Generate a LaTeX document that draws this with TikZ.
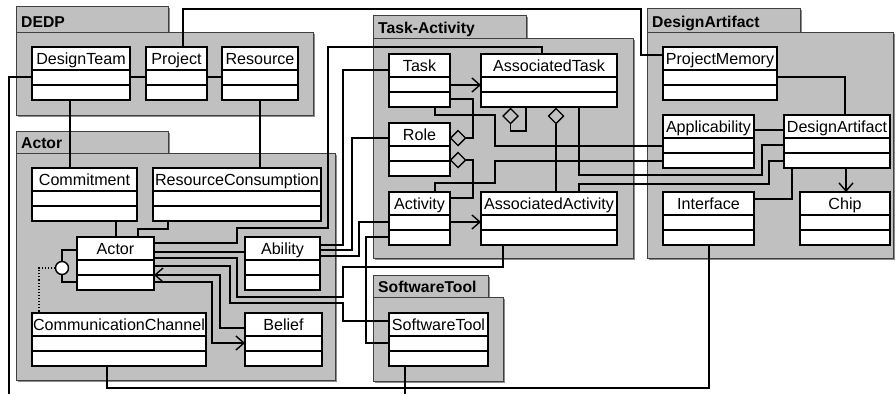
\documentclass[tikz,border=0pt]{standalone}
\usepackage{fontspec}
\setmainfont{Liberation Sans}
\usetikzlibrary{arrows.meta,shapes.geometric}

\definecolor{pkgfill}{RGB}{192,192,192}
\definecolor{pkgedge}{RGB}{64,64,64}
\definecolor{pkgshade}{RGB}{140,140,140}

% package: #1 node name, #2 title, #3 left, #4 tab top, #5 tab right,
%          #6 body top, #7 body right, #8 body bottom
\newcommand\umlpkg[8]{%
  \fill[pkgshade] (#3+1.5,#4+1.5) rectangle (#5+1.5,#6+1.5);
  \fill[pkgshade] (#3+1.5,#6+1.5) rectangle (#7+1.5,#8+1.5);
  \draw[pkgborder] (#3,#4) rectangle (#5,#6);
  \draw[pkgborder] (#3,#6) rectangle (#7,#8);
  \node[pkgtitle] (#1) at (#3+5,#6-5) {#2};
}

% class box: #1 node name, #2 left, #3 top, #4 width, #5 class name
\newcommand\umlclass[5]{%
  \node[clsbox, minimum width=#4pt] (#1) at (#2,#3) {};
  \draw[rowline] ([yshift=-23pt]#1.north west) -- ([yshift=-23pt]#1.north east);
  \draw[rowline] ([yshift=-38pt]#1.north west) -- ([yshift=-38pt]#1.north east);
  \node[clsname] (#1-name) at ([yshift=-17pt]#1.north) {#5};
}

\tikzset{
  pkgborder/.style={fill=pkgfill, draw=pkgedge, line width=1pt},
  pkgtitle/.style={anchor=base west, inner sep=0pt, font=\fontsize{15.7}{18}\selectfont\bfseries},
  clsbox/.style={draw, fill=white, line width=1.8pt, minimum height=53pt,
    inner sep=0pt, outer sep=0pt, anchor=north west},
  rowline/.style={line width=1.8pt},
  clsname/.style={anchor=base, inner sep=0pt, font=\fontsize{16.1}{18}\selectfont},
  conn/.style={line width=1.4pt},
  nav/.style={conn, -{Straight Barb[length=8pt,width=14pt,line width=1.4pt]}},
  aggr/.style={diamond, draw, line width=1.4pt, minimum width=15pt,
    minimum height=15pt, inner sep=0pt, outer sep=0pt},
  lollipop/.style={circle, draw, fill=white, line width=1.4pt,
    minimum size=13pt, inner sep=0pt, outer sep=0pt},
}

\begin{document}
\begin{tikzpicture}[x=1pt, y=-1pt]
\useasboundingbox (0,0) rectangle (896,394);
\fill[white] (0,0) rectangle (896,394);

% packages
\umlpkg{pkgDEDP}{DEDP}{16}{6}{168}{32}{313}{115}
\umlpkg{pkgActor}{Actor}{16}{131}{168}{153}{335}{380}
\umlpkg{pkgTask}{Task-Activity}{373}{15}{526}{38}{633}{258}
\umlpkg{pkgTool}{SoftwareTool}{373}{275}{488}{297}{503}{381}
\umlpkg{pkgArtifact}{DesignArtifact}{647}{8}{800}{32}{893}{258}

% classes
\umlclass{designteam}{32}{47}{98}{DesignTeam}
\umlclass{project}{146}{47}{61}{Project}
\umlclass{resource}{222}{47}{76}{Resource}
\umlclass{commitment}{32}{168}{105}{Commitment}
\umlclass{rescons}{153}{168}{168}{ResourceConsumption}
\umlclass{actor}{77}{237}{77}{Actor}
\umlclass{ability}{245}{237}{75}{Ability}
\umlclass{commch}{32}{313}{174}{CommunicationChannel}
\umlclass{belief}{245}{313}{77}{Belief}
\umlclass{task}{389}{54}{61}{Task}
\umlclass{atask}{481}{54}{136}{AssociatedTask}
\umlclass{role}{389}{123}{61}{Role}
\umlclass{activity}{389}{192}{61}{Activity}
\umlclass{aactivity}{481}{192}{136}{AssociatedActivity}
\umlclass{swtool}{389}{313}{99}{SoftwareTool}
\umlclass{projmem}{663}{47}{114}{ProjectMemory}
\umlclass{applic}{663}{115}{91}{Applicability}
\umlclass{dartifact}{784}{115}{106}{DesignArtifact}
\umlclass{interface}{663}{192}{91}{Interface}
\umlclass{chip}{800}{192}{90}{Chip}

% aggregation diamonds and the interface circle
\node[aggr] (rdia1) at (458,138) {};
\node[aggr] (rdia2) at (458,160) {};
\node[aggr] (adia1) at (510.5,116) {};
\node[aggr] (adia2) at (556,116) {};
\node[lollipop] (lolli) at (62,268) {};

% free ends leaving the picture
\coordinate (teamend) at (9,394);
\coordinate (toolend) at (405,394);

% DEDP
\draw[conn] ([yshift=-30pt]designteam.north east) -- ([yshift=-30pt]project.north west);
\draw[conn] ([yshift=-30pt]project.north east) -- ([yshift=-30pt]resource.north west);
\draw[conn] ([xshift=37pt]project.north west) |- (641,9) |- ([yshift=-8pt]projmem.north west);
\draw[conn] ([yshift=-30pt]designteam.north west) -| (teamend);
\draw[conn] ([xshift=38pt]designteam.south west) -- ([xshift=38pt]commitment.north west);
\draw[conn] ([xshift=38pt]resource.south west) -- ([xshift=107pt]rescons.north west);

% Actor
\draw[conn] ([yshift=-6pt]actor.north east) -- (237,243) -- (237,228) -- (328,228)
  -- (328,47) -| ([xshift=61pt]atask.north west);
\draw[conn] ([xshift=15pt]rescons.south west) -- (168,229) -| ([xshift=61pt]actor.north west);
\draw[conn] ([xshift=84pt]commitment.south west) -- ([xshift=39pt]actor.north west);
\draw[conn] ([yshift=-15pt]actor.north east) -- ([yshift=-15pt]ability.north west);
\draw[conn] ([yshift=-21pt]actor.north east) -- (237,258) -- (237,297) -- (343,297)
  -- (343,267) -| ([xshift=22pt]aactivity.south west);
\draw[conn] ([yshift=-29pt]actor.north east) -- (230,266) -- (230,303) -- (343,303)
  |- ([yshift=-8pt]swtool.north west);
\draw[nav] ([yshift=-15pt]belief.north west) -- (220,328) |- ([yshift=-38pt]actor.north east);
\draw[nav] ([yshift=-45pt]actor.north east) -- (212,282) |- ([yshift=-30pt]belief.north west);
\draw[conn] (lolli.north) |- ([yshift=-13pt]actor.north west);
\draw[conn] (lolli.south) |- ([yshift=-45pt]actor.north west);
\draw[line width=1.1pt, dotted] (lolli.west) -| ([xshift=7pt]commch.north west);
\draw[conn] ([xshift=75pt]commch.south west) |- (709,388) -- ([xshift=46pt]interface.south west);

% Ability to Task-Activity
\draw[conn] ([yshift=-8pt]ability.north east) -- (343,245) |- ([yshift=-16pt]task.north west);
\draw[conn] ([yshift=-13pt]ability.north east) -- (352,250) |- ([yshift=-15pt]role.north west);
\draw[conn] ([yshift=-19pt]ability.north east) -- (359,256) |- ([yshift=-30pt]activity.north west);
\draw[conn] ([yshift=-45pt]activity.north west) -- (366,237) |- ([yshift=-30pt]swtool.north west);
\draw[conn] ([xshift=16pt]swtool.south west) -- (toolend);

% Task-Activity
\draw[nav] ([yshift=-31pt]task.north east) -- ([yshift=-31pt]atask.north west);
\draw[nav] ([yshift=-30pt]activity.north east) -- ([yshift=-30pt]aactivity.north west);
\draw[conn] (rdia1.east) -- (473,138) |- ([yshift=-45pt]task.north east);
\draw[conn] (rdia2.east) -- (473,160) |- ([yshift=-6pt]activity.north east);
\draw[conn] (adia1.south) -- (510.5,131) -| ([xshift=45pt]atask.south west);
\draw[conn] (adia2.south) -- ([xshift=75pt]aactivity.north west);

% Task-Activity to DesignArtifact
\draw[conn] ([xshift=46pt]task.south west) -- (435,115) -- (495,115) |- ([yshift=-31pt]applic.north west);
\draw[conn] ([xshift=46pt]activity.north west) -- (435,183) -- (495,183) |- ([yshift=-46pt]applic.north west);
\draw[conn] ([xshift=98pt]atask.south west) -- (579,175) -- (762,175) |- ([yshift=-30pt]dartifact.north west);
\draw[conn] ([xshift=98pt]aactivity.north west) -- (579,184) -- (769,184) |- ([yshift=-46pt]dartifact.north west);

% DesignArtifact
\draw[conn] ([yshift=-15pt]applic.north east) -- ([yshift=-15pt]dartifact.north west);
\draw[conn] ([yshift=-30pt]projmem.north east) -| ([xshift=61pt]dartifact.north west);
\draw[nav] ([xshift=62pt]dartifact.south west) -- ([xshift=46pt]chip.north west);
\draw[conn] ([xshift=8pt]dartifact.south west) |- ([yshift=-7pt]interface.north east);
\end{tikzpicture}
\end{document}
